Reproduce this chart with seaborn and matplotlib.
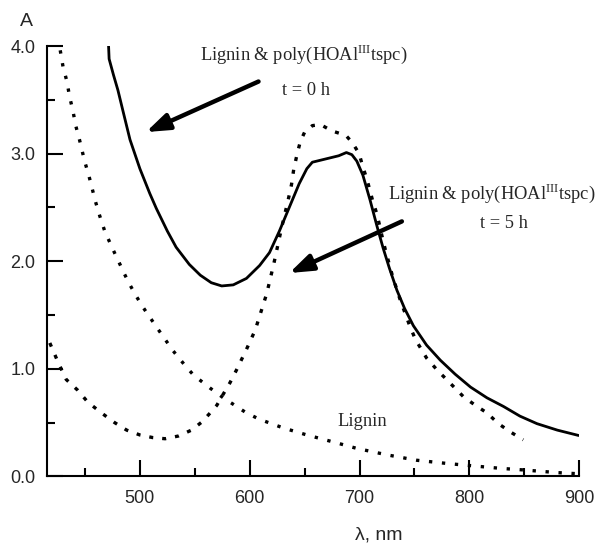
import numpy as np
import pandas as pd
import matplotlib
matplotlib.use("Agg")
import matplotlib.pyplot as plt
import seaborn as sns

# ---- data ----
wl_t0 = [471.5, 472, 476, 480, 485, 491, 500, 509, 515, 525, 533, 545, 555, 565,
         574.5, 585, 597, 609, 618, 627, 636, 645, 652, 657, 665, 673, 681, 688,
         693, 697.5, 703, 709.5, 716, 721.5, 727, 734, 741, 749, 761, 773.5, 787,
         801, 816, 831, 846, 861.5, 880, 899.5]
abs_t0 = [4.00, 3.88, 3.73, 3.59, 3.38, 3.13, 2.86, 2.63, 2.49, 2.28, 2.13, 1.97,
          1.87, 1.80, 1.77, 1.78, 1.84, 1.96, 2.08, 2.28, 2.50, 2.72, 2.86, 2.92,
          2.94, 2.96, 2.98, 3.01, 2.99, 2.93, 2.80, 2.57, 2.32, 2.12, 1.94, 1.73,
          1.56, 1.40, 1.22, 1.08, 0.95, 0.83, 0.73, 0.65, 0.56, 0.49, 0.43, 0.38]

wl_t5 = [418, 426, 433, 443.5, 452.6, 465, 477, 488, 500, 512, 523, 535, 547, 557,
         564, 570, 574.5, 582, 588, 597, 605, 615.5, 622, 629, 635, 638, 640, 643,
         646, 650, 657, 664.5, 675, 687.5, 693.5, 699.6, 702.6, 707, 711.7, 716,
         720.5, 723.6, 730, 737, 746, 751, 761, 770.5, 782.6, 794.6, 805.5, 816,
         826.4, 837, 849]
abs_t5 = [1.24, 1.05, 0.90, 0.80, 0.69, 0.59, 0.50, 0.43, 0.385, 0.36, 0.35, 0.375,
          0.43, 0.51, 0.59, 0.66, 0.74, 0.87, 0.99, 1.18, 1.36, 1.70, 1.98, 2.31,
          2.57, 2.71, 2.85, 2.99, 3.11, 3.20, 3.26, 3.27, 3.21, 3.17, 3.10, 3.00,
          2.89, 2.75, 2.57, 2.43, 2.23, 2.10, 1.86, 1.64, 1.39, 1.27, 1.10, 0.99,
          0.865, 0.74, 0.66, 0.59, 0.49, 0.415, 0.34]

wl_lig = [427.5, 430, 433.6, 436, 439, 441.6, 445, 449.7, 453.7, 456.7, 459.7, 463.5,
          468, 475, 481, 486, 491.5, 497, 503, 509, 515, 520.5, 530, 542, 549, 564,
          576, 585, 597, 609, 630.6, 652, 676, 697.5, 725, 752, 779.6, 804, 828, 849,
          880, 898]
abs_lig = [3.96, 3.81, 3.67, 3.53, 3.40, 3.26, 3.13, 2.93, 2.79, 2.67, 2.55, 2.42,
           2.28, 2.12, 1.99, 1.88, 1.77, 1.67, 1.57, 1.48, 1.39, 1.31, 1.17, 1.02, 0.94,
           0.82, 0.73, 0.67, 0.59, 0.53, 0.45, 0.385, 0.32, 0.26, 0.20, 0.15, 0.12,
           0.097, 0.075, 0.06, 0.035, 0.025]

x_major = [500, 600, 700, 800, 900]
x_minor = [450, 550, 650, 750, 850]
y_major = [0.0, 1.0, 2.0, 3.0, 4.0]
y_minor = [0.5, 1.5, 2.5, 3.5]
y_labels = ["0.0", "1.0", "2.0", "3.0", "4.0"]

sns.set_style("ticks")
plt.rcParams["font.family"] = ["Liberation Sans", "DejaVu Sans"]
plt.rcParams["mathtext.fontset"] = "custom"
plt.rcParams["mathtext.rm"] = "Liberation Serif"

fig = plt.figure(figsize=(5.97, 5.44), dpi=100)
ax = fig.add_axes([0.0779, 0.1243, 0.8924, 0.7911])

df0 = pd.DataFrame({"wl": wl_t0, "A": abs_t0})
df5 = pd.DataFrame({"wl": wl_t5, "A": abs_t5})
dfl = pd.DataFrame({"wl": wl_lig, "A": abs_lig})

sns.lineplot(data=df0, x="wl", y="A", ax=ax, color="black", linewidth=2.0,
             sort=False, estimator=None, solid_joinstyle="round",
             solid_capstyle="round")
sns.lineplot(data=df5, x="wl", y="A", ax=ax, color="black", linewidth=2.4,
             sort=False, estimator=None, linestyle=(0, (1.2, 2.7)))
sns.lineplot(data=dfl, x="wl", y="A", ax=ax, color="black", linewidth=2.4,
             sort=False, estimator=None, linestyle=(0, (1.0, 2.9)))

ax.set_xlim(415, 900)
ax.set_ylim(0, 4)
ax.set_xticks(x_major)
ax.set_xticks(x_minor, minor=True)
ax.set_yticks(y_major)
ax.set_yticklabels(y_labels)
ax.set_yticks(y_minor, minor=True)
ax.tick_params(axis="x", which="major", pad=10)
ax.tick_params(axis="y", which="major", pad=8)
ax.tick_params(which="major", direction="in", length=11.5, width=1.5,
               labelsize=13, color="black")
ax.tick_params(which="minor", direction="in", length=6, width=1.5, color="black")
for s in ["top", "right"]:
    ax.spines[s].set_visible(False)
for s in ["left", "bottom"]:
    ax.spines[s].set_linewidth(1.5)
    ax.spines[s].set_color("black")
ax.set_xlabel("")
ax.set_ylabel("")

fig.text(0.0447, 0.9605, "A", fontsize=14, ha="center", va="center")
fig.text(0.635, 0.016, "λ, nm", fontsize=14, ha="center", va="center")

serif = ["Liberation Serif", "DejaVu Serif"]
lab = r"Lignin & poly(HOA$\mathrm{l}^{\mathrm{III}}$tspc)"
ax.text(649.4, 3.92, lab, fontsize=13.3, family=serif, ha="center", va="center")
ax.text(651, 3.59, "t = 0 h", fontsize=13.3, family=serif, ha="center", va="center")
ax.text(820.6, 2.63, lab, fontsize=13.3, family=serif, ha="center", va="center")
ax.text(831.5, 2.355, "t = 5 h", fontsize=13.3, family=serif, ha="center", va="center")
ax.text(702.8, 0.51, "Lignin", fontsize=13.3, family=serif, ha="center", va="center")

aprops = dict(arrowstyle="-|>,head_length=0.7,head_width=0.25", lw=3.2,
              color="black", mutation_scale=20, shrinkA=0, shrinkB=0)
ax.annotate("", xy=(505.5, 3.20), xytext=(608, 3.67), arrowprops=aprops)
ax.annotate("", xy=(636, 1.89), xytext=(738.5, 2.37), arrowprops=aprops)

fig.savefig("out.png", dpi=100)
